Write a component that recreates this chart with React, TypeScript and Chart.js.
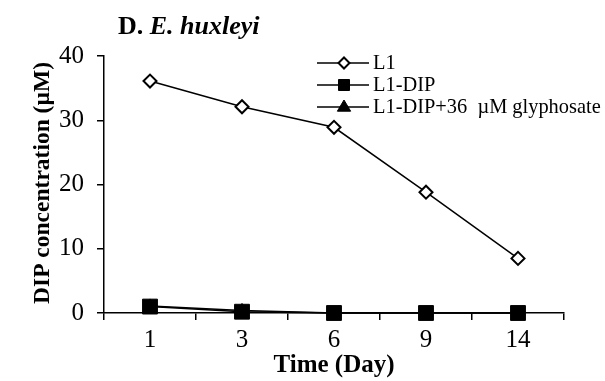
import React, { useEffect, useRef } from "react";
import { Chart, registerables } from "chart.js";

Chart.register(...registerables);

const days = ["1", "3", "6", "9", "14"];
const l1 = [36.1, 32.1, 28.9, 18.8, 8.5];
const l1Dip = [1.0, 0.2, 0.0, 0.0, 0.0];
const l1DipGly = [1.1, 0.4, 0.0, 0.0, 0.0];
const seriesNames = ["L1", "L1-DIP", "L1-DIP+36  µM glyphosate"];
const yTicks = { min: 0, max: 40, step: 10 };

const SERIF = '"Liberation Serif", "Times New Roman", serif';

function drawMarker(ctx: CanvasRenderingContext2D, style: string, r: number, x: number, y: number) {
  ctx.beginPath();
  if (style === "rectRot") {
    ctx.moveTo(x - r, y);
    ctx.lineTo(x, y - r);
    ctx.lineTo(x + r, y);
    ctx.lineTo(x, y + r);
    ctx.closePath();
  } else if (style === "rect") {
    ctx.rect(x - r, y - r, 2 * r, 2 * r);
  } else {
    ctx.moveTo(x, y - r);
    ctx.lineTo(x + r * 0.95, y + r * 0.6);
    ctx.lineTo(x - r * 0.95, y + r * 0.6);
    ctx.closePath();
  }
  ctx.fill();
  ctx.stroke();
}

const textPlugin = {
  id: "texts",
  afterDraw(chart: any) {
    const ctx = chart.ctx as CanvasRenderingContext2D;
    const area = chart.chartArea;
    ctx.save();
    ctx.fillStyle = "#000";
    // Title
    ctx.textBaseline = "alphabetic";
    ctx.textAlign = "left";
    ctx.font = `bold 26px ${SERIF}`;
    const part1 = "D. ";
    ctx.fillText(part1, 118, 34);
    const w1 = ctx.measureText(part1).width;
    ctx.font = `italic bold 26px ${SERIF}`;
    ctx.fillText("E. huxleyi", 118 + w1, 34);

    // Y title
    ctx.save();
    ctx.translate(43, 183);
    ctx.rotate(-Math.PI / 2);
    ctx.font = `bold 23.5px ${SERIF}`;
    ctx.textAlign = "center";
    ctx.textBaseline = "middle";
    ctx.fillText("DIP concentration (µM)", 0, 0);
    ctx.restore();

    // X title
    ctx.font = `bold 25px ${SERIF}`;
    ctx.textAlign = "center";
    ctx.textBaseline = "alphabetic";
    ctx.fillText("Time (Day)", (area.left + area.right) / 2, 372);

    // Legend
    const rows = [63, 85, 107];
    const styles = ["rectRot", "rect", "triangle"];
    const fills = ["#fff", "#000", "#000"];
    const radii = [5.5, 5.5, 7];
    rows.forEach((y, i) => {
      ctx.strokeStyle = "#000";
      ctx.lineWidth = 1.5;
      ctx.beginPath();
      ctx.moveTo(317, y);
      ctx.lineTo(369, y);
      ctx.stroke();
      ctx.fillStyle = fills[i];
      ctx.lineWidth = i === 0 ? 2 : 1;
      drawMarker(ctx, styles[i], radii[i], 344, y);
      ctx.fillStyle = "#000";
      ctx.font = `20.4px ${SERIF}`;
      ctx.textAlign = "left";
      ctx.textBaseline = "middle";
      ctx.fillText(seriesNames[i], 373, y + 1);
    });
    ctx.restore();
  },
};

export default function App() {
  const ref = useRef<HTMLCanvasElement | null>(null);
  useEffect(() => {
    if (!ref.current) return;
    const chart = new Chart(ref.current, {
      type: "line",
      data: {
        labels: days,
        datasets: [
          {
            label: seriesNames[0],
            data: l1,
            borderColor: "#000",
            borderWidth: 1.5,
            pointStyle: "rectRot",
            pointRadius: 6.5,
            pointBorderWidth: 2,
            pointBackgroundColor: "#fff",
            pointBorderColor: "#000",
            clip: false,
          },
          {
            label: seriesNames[1],
            data: l1Dip,
            borderColor: "#000",
            borderWidth: 1.5,
            pointStyle: "rect",
            pointRadius: 10.5,
            pointBorderWidth: 1,
            pointBackgroundColor: "#000",
            pointBorderColor: "#000",
            clip: false,
          },
          {
            label: seriesNames[2],
            data: l1DipGly,
            borderColor: "#000",
            borderWidth: 1.5,
            pointStyle: "triangle",
            pointRadius: 7,
            pointBorderWidth: 1,
            pointBackgroundColor: "#000",
            pointBorderColor: "#000",
            clip: false,
          },
        ],
      },
      options: {
        responsive: false,
        animation: false,
        layout: { padding: { left: 0, right: 41, top: 56, bottom: 0 } },
        plugins: { legend: { display: false }, tooltip: { enabled: false }, title: { display: false } },
        scales: {
          x: {
            type: "category",
            offset: true,
            grid: { offset: true, drawOnChartArea: false, drawTicks: true, tickLength: 7, color: "#000", lineWidth: 1.5 },
            border: { display: true, color: "#000", width: 1.5 },
            ticks: { color: "#000", font: { family: SERIF, size: 25 }, padding: 5, maxRotation: 0 },
            afterFit: (s: any) => { s.height = 68; },
          },
          y: {
            min: yTicks.min,
            max: yTicks.max,
            grid: { drawOnChartArea: false, drawTicks: true, tickLength: 7, color: "#000", lineWidth: 1.5 },
            border: { display: true, color: "#000", width: 1.5 },
            ticks: { stepSize: yTicks.step, color: "#000", font: { family: SERIF, size: 25 }, padding: 13 },
            afterFit: (s: any) => { s.width = 104; },
          },
        },
      } as any,
      plugins: [textPlugin],
    });
    return () => chart.destroy();
  }, []);
  return (
    <div style={{ position: "fixed", left: 0, top: 0, width: 605, height: 381, background: "#fff" }}>
      <canvas ref={ref} width={605} height={381} />
    </div>
  );
}
